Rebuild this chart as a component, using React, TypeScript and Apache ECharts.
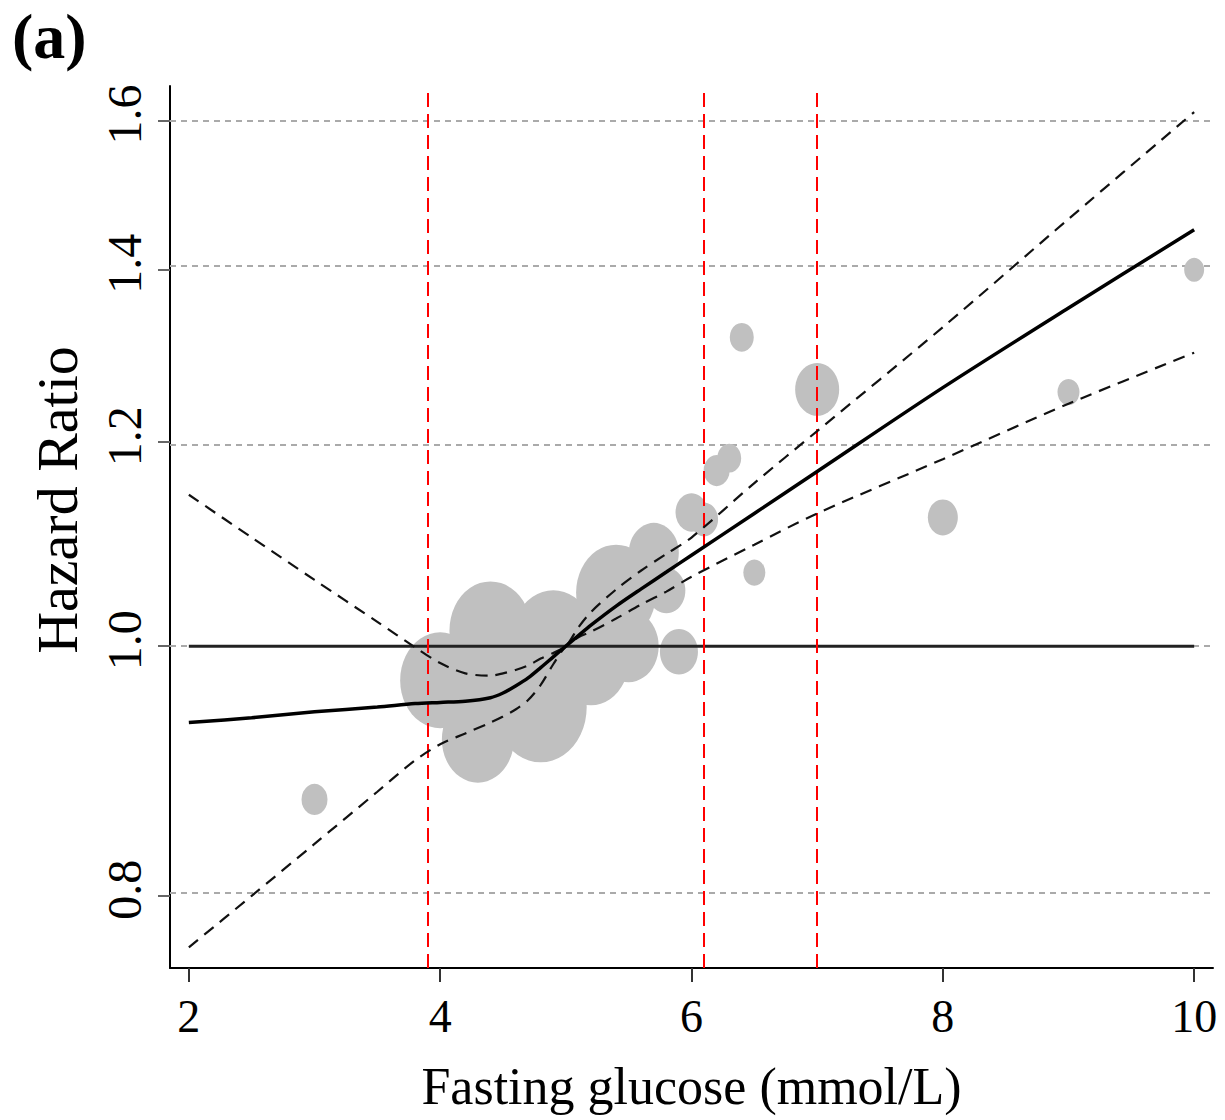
import React, { useEffect, useRef } from "react";
import * as echarts from "echarts";

// Axis ticks and reference values
const xTicks = [2, 4, 6, 8, 10];
const yTicks = [0.8, 1.0, 1.2, 1.4, 1.6];
const xRange = [1.85, 10.15];
const hrRange = [0.75, 1.65];
const cutoffs = [3.9, 6.1, 7.0];
const refX = [2, 10];
const refHR = 1.0;

// Dose-response curve (hazard ratio) and 95% CI
const curveX = [2, 2.5, 3, 3.5, 3.8, 4.0, 4.2, 4.4, 4.5, 4.6, 4.7, 4.8, 4.9, 5.0, 5.1, 5.2, 5.4, 5.6, 5.8, 6.0, 6.5, 7, 8, 9, 10];
const hrFit = [0.934, 0.938, 0.943, 0.947, 0.95, 0.951, 0.952, 0.955, 0.959, 0.965, 0.972, 0.981, 0.9905, 1.0, 1.0095, 1.019, 1.0365, 1.0526, 1.0685, 1.0847, 1.126, 1.169, 1.26, 1.353, 1.451];
const hrUpper = [1.145, 1.102, 1.061, 1.022, 0.999, 0.985, 0.976, 0.974, 0.976, 0.979, 0.983, 0.989, 0.994, 1.0, 1.017, 1.031, 1.052, 1.07, 1.086, 1.102, 1.157, 1.212, 1.33, 1.465, 1.612];
const hrLower = [0.764, 0.8, 0.838, 0.878, 0.903, 0.916, 0.925, 0.934, 0.939, 0.945, 0.953, 0.966, 0.984, 1.0, 1.008, 1.013, 1.025, 1.038, 1.05, 1.064, 1.095, 1.126, 1.182, 1.242, 1.3];

// Study-specific estimates (bubbles), weight = relative bubble size
const bubbleX = [3.0, 4.0, 4.3, 4.4, 4.5, 4.8, 4.9, 5.2, 5.4, 5.5, 5.7, 5.8, 5.9, 6.0, 6.1, 6.2, 6.3, 6.4, 6.5, 7.0, 8.0, 9.0, 10.0];
const bubbleHR = [0.872, 0.97, 0.92, 1.014, 0.965, 0.947, 1.005, 0.988, 1.049, 1.0, 1.087, 1.051, 0.995, 1.127, 1.12, 1.17, 1.183, 1.318, 1.068, 1.258, 1.122, 1.255, 1.4];
const bubbleWeight = [13, 40, 36, 41, 30, 46, 42, 38, 40, 30, 25, 19, 19, 16, 14, 13, 12, 12, 11, 22, 15, 11, 10];

const FONT = "Liberation Serif";

export default function App() {
  const ref = useRef<HTMLDivElement>(null);

  useEffect(() => {
    document.body.style.margin = "0";
    if (!ref.current) return;
    const chart = echarts.init(ref.current, null, { renderer: "svg" });
    const ln = Math.log;
    const toLine = (ys: number[]) => curveX.map((x, i) => [x, ln(ys[i])]);

    const option: any = {
      animation: false,
      backgroundColor: "#ffffff",
      textStyle: { fontFamily: FONT, color: "#000" },
      grid: { left: 170, right: 12, top: 86, bottom: 152, containLabel: false },
      xAxis: {
        type: "value",
        min: xRange[0],
        max: xRange[1],
        name: "Fasting glucose (mmol/L)",
        nameLocation: "middle",
        nameGap: 92,
        nameTextStyle: { fontFamily: FONT, fontSize: 52, color: "#000" },
        axisLine: { onZero: false, lineStyle: { color: "#000", width: 2 } },
        axisTick: { customValues: xTicks, length: 14, lineStyle: { color: "#333", width: 2 } },
        axisLabel: {
          customValues: xTicks,
          fontFamily: FONT,
          fontSize: 46,
          color: "#000",
          margin: 25,
        },
        splitLine: { show: false },
      },
      yAxis: {
        type: "value",
        min: ln(hrRange[0]),
        max: ln(hrRange[1]),
        axisLine: { onZero: false, lineStyle: { color: "#000", width: 2 } },
        axisTick: { customValues: yTicks.map((v) => ln(v)), length: 12, lineStyle: { color: "#666", width: 2 } },
        axisLabel: {
          customValues: yTicks.map((v) => ln(v)),
          formatter: (v: number) => Math.exp(v).toFixed(1),
          rotate: 90,
          fontFamily: FONT,
          fontSize: 48,
          color: "#000",
          margin: 22,
          padding: [0, 0, 0, 12],
        },
        splitLine: { show: false },
      },
      graphic: [
        {
          type: "text",
          left: 12,
          top: 4,
          style: { text: "(a)", font: `bold 64px "${FONT}"`, fill: "#000" },
        },
        {
          type: "text",
          x: 57,
          y: 500,
          rotation: Math.PI / 2,
          style: {
            text: "Hazard Ratio",
            font: `58px "${FONT}"`,
            fill: "#000",
            align: "center",
            verticalAlign: "middle",
          },
        },
      ],
      series: [
        {
          type: "line",
          data: [],
          z: 1,
          silent: true,
          markLine: {
            z: 1,
            silent: true,
            symbol: "none",
            label: { show: false },
            lineStyle: { color: "#aaa", type: [6, 5], width: 2 },
            data: yTicks.map((v) => ({ yAxis: ln(v) })),
          },
        },
        {
          type: "scatter",
          z: 2,
          silent: true,
          data: bubbleX.map((x, i) => [x, ln(bubbleHR[i]), bubbleWeight[i]]),
          symbolSize: (v: number[]) => [v[2] * 2, v[2] * 2.4],
          itemStyle: { color: "#c0c0c0", opacity: 1 },
        },
        {
          type: "line",
          z: 3,
          silent: true,
          symbol: "none",
          data: refX.map((x) => [x, ln(refHR)]),
          lineStyle: { color: "#222", width: 3 },
        },
        {
          type: "line",
          data: [],
          z: 4,
          silent: true,
          markLine: {
            z: 4,
            silent: true,
            symbol: "none",
            label: { show: false },
            lineStyle: { color: "#ff0000", type: [14, 7], width: 2 },
            data: cutoffs.map((v) => ({ xAxis: v })),
          },
        },
        {
          type: "line",
          z: 5,
          silent: true,
          symbol: "none",
          smooth: 0.3,
          data: toLine(hrUpper),
          lineStyle: { color: "#111", type: [12, 8], width: 2.2 },
        },
        {
          type: "line",
          z: 5,
          silent: true,
          symbol: "none",
          smooth: 0.3,
          data: toLine(hrLower),
          lineStyle: { color: "#111", type: [12, 8], width: 2.2 },
        },
        {
          type: "line",
          z: 6,
          silent: true,
          symbol: "none",
          smooth: 0.3,
          data: toLine(hrFit),
          lineStyle: { color: "#000", width: 3.5 },
        },
      ],
    };

    chart.setOption(option);
    return () => {
      chart.dispose();
    };
  }, []);

  return <div ref={ref} style={{ width: 1225, height: 1120 }} />;
}
